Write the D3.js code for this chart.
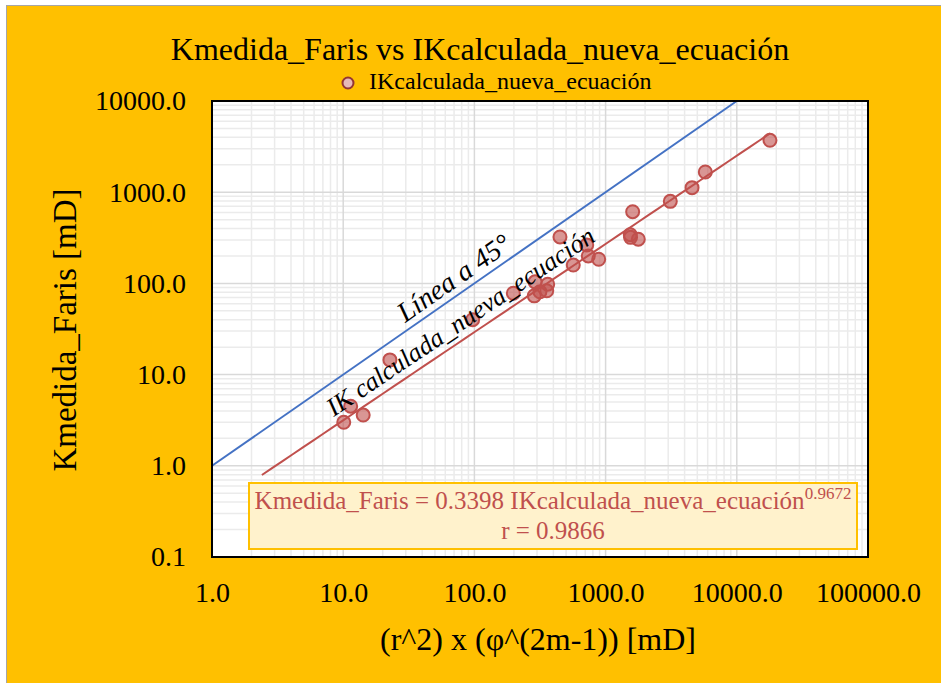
<!DOCTYPE html>
<html>
<head>
<meta charset="utf-8">
<script src="https://cdn.jsdelivr.net/npm/d3@7"></script>
<style>
  body { margin: 0; background: #fff; }
  text { font-family: "Liberation Serif", "Times New Roman", serif; }
</style>
</head>
<body>
<script>
// measured permeability vs. computed index (log-log)
const ikCalculada = [10.1, 11.4, 14.2, 22.7, 97, 198, 286, 290, 316, 356, 362, 449, 567, 718, 738, 886, 1542, 1550, 1608, 1775, 3113, 4558, 5754, 17900];
const kMedida = [3.0, 4.5, 3.6, 14.5, 40, 78, 73, 104, 81, 83, 98, 323, 159, 264, 200, 184, 342, 320, 611, 305, 794, 1121, 1665, 3710];

// power trend  K = a * IK^b
const trendA = 0.3398;
const trendB = 0.9672;
const trendR = 0.9866;
const trendRange = [2.4, 17900];
const line45Range = [1, 10000];

const xTicks = [1, 10, 100, 1000, 10000, 100000];
const yTicks = [0.1, 1, 10, 100, 1000, 10000];

const W = 941, H = 683;
const margin = { top: 101, right: 73, bottom: 126, left: 212 };
const width = W - margin.left - margin.right;
const height = H - margin.top - margin.bottom;

const svg = d3.select("body").append("svg")
  .attr("width", W)
  .attr("height", H);

// chart background
svg.append("rect")
  .attr("x", 6.5).attr("y", 5.5)
  .attr("width", W).attr("height", H)
  .attr("fill", "#FFC000")
  .attr("stroke", "#a6a6a6");

const x = d3.scaleLog().domain([1, 100000]).range([0, width]);
const y = d3.scaleLog().domain([0.1, 10000]).range([height, 0]);

const g = svg.append("g")
  .attr("transform", `translate(${margin.left},${margin.top})`);

g.append("rect")
  .attr("width", width).attr("height", height)
  .attr("fill", "#fff");

// gridlines: minor then major
const minorX = [], minorY = [];
for (let d = 1; d < 100000; d *= 10) for (let k = 2; k <= 9; k++) minorX.push(d * k);
for (let d = 0.1; d < 10000; d *= 10) for (let k = 2; k <= 9; k++) minorY.push(d * k);

g.append("g").selectAll("line").data(minorX).join("line")
  .attr("x1", d => x(d)).attr("x2", d => x(d))
  .attr("y1", 0).attr("y2", height)
  .attr("stroke", "#ebebeb").attr("stroke-width", 1.5);
g.append("g").selectAll("line").data(minorY).join("line")
  .attr("y1", d => y(d)).attr("y2", d => y(d))
  .attr("x1", 0).attr("x2", width)
  .attr("stroke", "#ebebeb").attr("stroke-width", 1.5);
g.append("g").selectAll("line").data(xTicks).join("line")
  .attr("x1", d => x(d)).attr("x2", d => x(d))
  .attr("y1", 0).attr("y2", height)
  .attr("stroke", "#d9d9d9").attr("stroke-width", 1.5);
g.append("g").selectAll("line").data(yTicks).join("line")
  .attr("y1", d => y(d)).attr("y2", d => y(d))
  .attr("x1", 0).attr("x2", width)
  .attr("stroke", "#d9d9d9").attr("stroke-width", 1.5);

// axes (labels only)
const xAxis = g.append("g")
  .attr("transform", `translate(0,${height})`)
  .call(d3.axisBottom(x).tickValues(xTicks).tickFormat(d3.format(".1f")).tickSize(0).tickPadding(25));
const yAxis = g.append("g")
  .call(d3.axisLeft(y).tickValues(yTicks).tickFormat(d3.format(".1f")).tickSize(0).tickPadding(26));
[xAxis, yAxis].forEach(a => {
  a.select(".domain").remove();
  a.selectAll("text")
    .attr("font-family", "Liberation Serif, Times New Roman, serif")
    .attr("font-size", 28)
    .attr("fill", "#000");
});

// 45 degree line
const line = d3.line().x(d => x(d[0])).y(d => y(d[1]));
g.append("path")
  .attr("d", line(line45Range.map(v => [v, v])))
  .attr("fill", "none")
  .attr("stroke", "#4472C4")
  .attr("stroke-width", 2);

// power trendline
const trendPts = [];
const lr = trendRange.map(Math.log10);
for (let i = 0; i <= 50; i++) {
  const v = Math.pow(10, lr[0] + (lr[1] - lr[0]) * i / 50);
  trendPts.push([v, trendA * Math.pow(v, trendB)]);
}
g.append("path")
  .attr("d", line(trendPts))
  .attr("fill", "none")
  .attr("stroke", "#C0504D")
  .attr("stroke-width", 2);

// data points
g.selectAll(".pt")
  .data(ikCalculada.map((v, i) => [v, kMedida[i]]))
  .join("circle")
  .attr("class", "pt")
  .attr("cx", d => x(d[0]))
  .attr("cy", d => y(d[1]))
  .attr("r", 6.5)
  .attr("fill", "#C0504D")
  .attr("fill-opacity", 0.6)
  .attr("stroke", "#C0504D")
  .attr("stroke-width", 2);

// labels along the lines
function lineLabel(text, xv, fn, size, off) {
  const px = x(xv), py = y(fn(xv));
  const slope = (y(fn(xv * 10)) - py) / (x(xv * 10) - px);
  const ang = Math.atan(slope) * 180 / Math.PI;
  g.append("text")
    .attr("transform", `translate(${px},${py}) rotate(${ang})`)
    .attr("y", -off)
    .attr("text-anchor", "middle")
    .attr("font-size", size)
    .attr("font-style", "italic")
    .attr("fill", "#000")
    .text(text);
}
lineLabel("Línea a 45°", 82, v => v, 28, 7);
lineLabel("IK calculada_nueva_ecuación", 92, v => trendA * Math.pow(v, trendB), 26, 8);

// plot border
g.append("rect")
  .attr("width", width).attr("height", height)
  .attr("fill", "none")
  .attr("stroke", "#000")
  .attr("stroke-width", 2);

// trendline equation box
const eq = g.append("g");
eq.append("rect")
  .attr("x", 249 - margin.left).attr("y", 483 - margin.top)
  .attr("width", 608).attr("height", 66)
  .attr("fill", "#FFF2CC")
  .attr("stroke", "#FFC000")
  .attr("stroke-width", 2);
const eqText = eq.append("text")
  .attr("x", 553 - margin.left).attr("y", 509 - margin.top)
  .attr("text-anchor", "middle")
  .attr("font-size", 25)
  .attr("fill", "#C0504D");
eqText.append("tspan").text(`Kmedida_Faris = ${trendA} IKcalculada_nueva_ecuación`);
eqText.append("tspan").attr("font-size", 17).attr("dy", -10).text(trendB);
eq.append("text")
  .attr("x", 553 - margin.left).attr("y", 539 - margin.top)
  .attr("text-anchor", "middle")
  .attr("font-size", 25)
  .attr("fill", "#C0504D")
  .text(`r = ${trendR}`);

// title
svg.append("text")
  .attr("x", 480).attr("y", 60)
  .attr("text-anchor", "middle")
  .attr("font-size", 32)
  .text("Kmedida_Faris vs IKcalculada_nueva_ecuación");

// legend
svg.append("circle")
  .attr("cx", 348).attr("cy", 83).attr("r", 5.5)
  .attr("fill", "#E6B9B8")
  .attr("stroke", "#943634")
  .attr("stroke-width", 2);
svg.append("text")
  .attr("x", 369).attr("y", 89)
  .attr("font-size", 24)
  .text("IKcalculada_nueva_ecuación");

// axis titles
svg.append("text")
  .attr("x", 538).attr("y", 650)
  .attr("text-anchor", "middle")
  .attr("font-size", 32)
  .text("(r^2) x (φ^(2m-1)) [mD]");
svg.append("text")
  .attr("transform", "translate(76,330) rotate(-90)")
  .attr("text-anchor", "middle")
  .attr("font-size", 33)
  .text("Kmedida_Faris [mD]");
</script>
</body>
</html>
